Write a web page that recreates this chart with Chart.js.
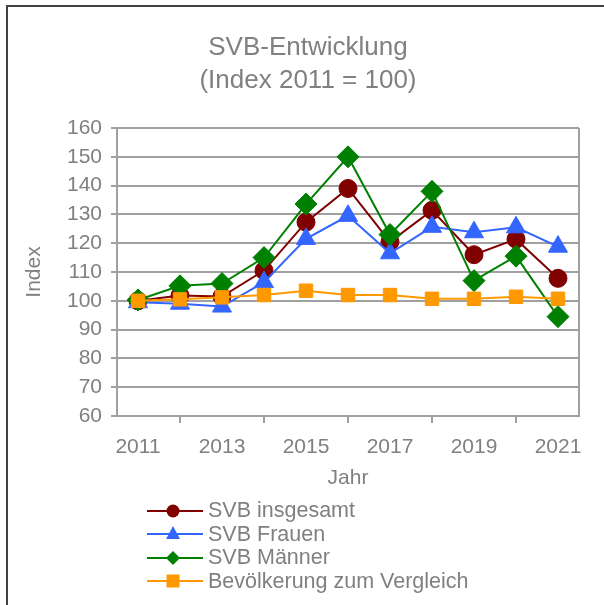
<!DOCTYPE html>
<html>
<head>
<meta charset="utf-8">
<script src="https://cdn.jsdelivr.net/npm/chart.js@4/dist/chart.umd.min.js"></script>
<style>
  body { margin: 0; background: #fff; }
  .wrap { position: relative; width: 604px; height: 605px; overflow: hidden; }
  #title {
    position: absolute; left: 0; top: 30px; width: 616px; text-align: center;
    font: 26px/33px "Liberation Sans", Arial, sans-serif; color: #808080;
  }
  #legend {
    position: absolute; left: 147px; top: 499px;
    font: 21.5px "Liberation Sans", Arial, sans-serif; color: #808080;
  }
  #legend div { display: flex; align-items: center; height: 23.5px; white-space: nowrap; }
  #legend svg { margin-right: 5px; }
</style>
</head>
<body>
<div class="wrap">
  <canvas id="svbChart" width="604" height="605"></canvas>
  <div id="title">SVB-Entwicklung<br>(Index 2011 = 100)</div>
  <div id="legend"></div>
</div>
<script>
const years = ['2011', '2012', '2013', '2014', '2015', '2016', '2017', '2018', '2019', '2020', '2021'];
const svbGesamt = [100, 101.8, 101.5, 110.5, 127.3, 139, 120.5, 131.4, 116, 121.4, 107.8];
const svbFrauen = [99.5, 99, 98, 106.5, 121.5, 129.5, 116.5, 125.7, 123.8, 125.5, 118.8];
const svbMaenner = [100.3, 105.2, 106, 115, 133.6, 150, 123, 138, 107, 115.5, 94.5];
const bevoelkerung = [100, 100.5, 101.2, 102, 103.5, 102, 102, 100.7, 100.7, 101.4, 100.7];
const seriesNames = ['SVB insgesamt', 'SVB Frauen', 'SVB Männer', 'Bevölkerung zum Vergleich'];

const textColor = '#808080';
const gridColor = '#a0a0a0';
const font = 'Liberation Sans, Arial, sans-serif';

// outer chart border + right edge of the plot area
const framePlugin = {
  id: 'frame',
  beforeDraw(chart) {
    const ctx = chart.ctx;
    ctx.save();
    ctx.strokeStyle = '#404040';
    ctx.lineWidth = 2;
    ctx.strokeRect(7, 6, 700, 700);
    ctx.restore();
  },
  beforeDatasetsDraw(chart) {
    const a = chart.chartArea;
    const ctx = chart.ctx;
    ctx.save();
    ctx.strokeStyle = gridColor;
    ctx.lineWidth = 2;
    ctx.beginPath();
    ctx.moveTo(a.right, a.top);
    ctx.lineTo(a.right, a.bottom);
    ctx.stroke();
    ctx.restore();
  }
};

const mk = (label, data, color, style, radius, order) => ({
  label, data, order,
  borderColor: color, backgroundColor: color,
  borderWidth: 2,
  pointStyle: style, pointRadius: radius, pointHoverRadius: radius,
  pointBorderWidth: 1,
  tension: 0
});

const datasets = [
  mk(seriesNames[0], svbGesamt, '#800000', 'circle', 9, 3),
  mk(seriesNames[1], svbFrauen, '#3366ff', 'triangle', 11, 2),
  mk(seriesNames[2], svbMaenner, '#008000', 'rectRot', 11, 1),
  mk(seriesNames[3], bevoelkerung, '#ff9900', 'rect', 9.5, 0)
];

new Chart(document.getElementById('svbChart'), {
  type: 'line',
  data: { labels: years, datasets },
  options: {
    responsive: false,
    animation: false,
    layout: { padding: { left: 6, right: 25, top: 128, bottom: 109 } },
    plugins: {
      legend: { display: false },
      tooltip: { enabled: false },
      title: { display: false }
    },
    scales: {
      x: {
        offset: true,
        grid: { offset: true, drawOnChartArea: false, color: gridColor, lineWidth: 2, tickLength: 7 },
        border: { color: gridColor, width: 2 },
        ticks: {
          autoSkip: false, maxRotation: 0, padding: 12,
          color: textColor, font: { family: font, size: 21 },
          callback: function (v, i) { return i % 2 === 0 ? this.getLabelForValue(v) : null; }
        },
        title: {
          display: true, text: 'Jahr', color: textColor,
          font: { family: font, size: 21 }, padding: { top: 0, bottom: 5 }
        },
        afterFit(scale) { scale.height = 80; }
      },
      y: {
        min: 60, max: 160,
        grid: { color: gridColor, lineWidth: 2, tickLength: 6 },
        border: { color: gridColor, width: 2 },
        ticks: { stepSize: 10, padding: 9, color: textColor, font: { family: font, size: 21 } },
        title: {
          display: true, text: 'Index', color: textColor,
          font: { family: font, size: 21 }, padding: { top: 16, bottom: 0 }
        },
        afterFit(scale) { scale.width = 111; }
      }
    }
  },
  plugins: [framePlugin]
});

// legend as html below the chart
const shapes = {
  circle: (c) => `<circle cx="26" cy="12" r="6.5" fill="${c}"/>`,
  triangle: (c) => `<polygon points="26,4 33,17 19,17" fill="${c}"/>`,
  rectRot: (c) => `<polygon points="26,5 33,12 26,19 19,12" fill="${c}"/>`,
  rect: (c) => `<rect x="19.5" y="5.5" width="13" height="13" fill="${c}"/>`
};
const legendEl = document.getElementById('legend');
datasets.forEach(ds => {
  const row = document.createElement('div');
  row.innerHTML = `<svg width="56" height="24"><line x1="0" y1="12" x2="56" y2="12" stroke="${ds.borderColor}" stroke-width="2"/>${shapes[ds.pointStyle](ds.borderColor)}</svg><span>${ds.label}</span>`;
  legendEl.appendChild(row);
});
</script>
</body>
</html>
